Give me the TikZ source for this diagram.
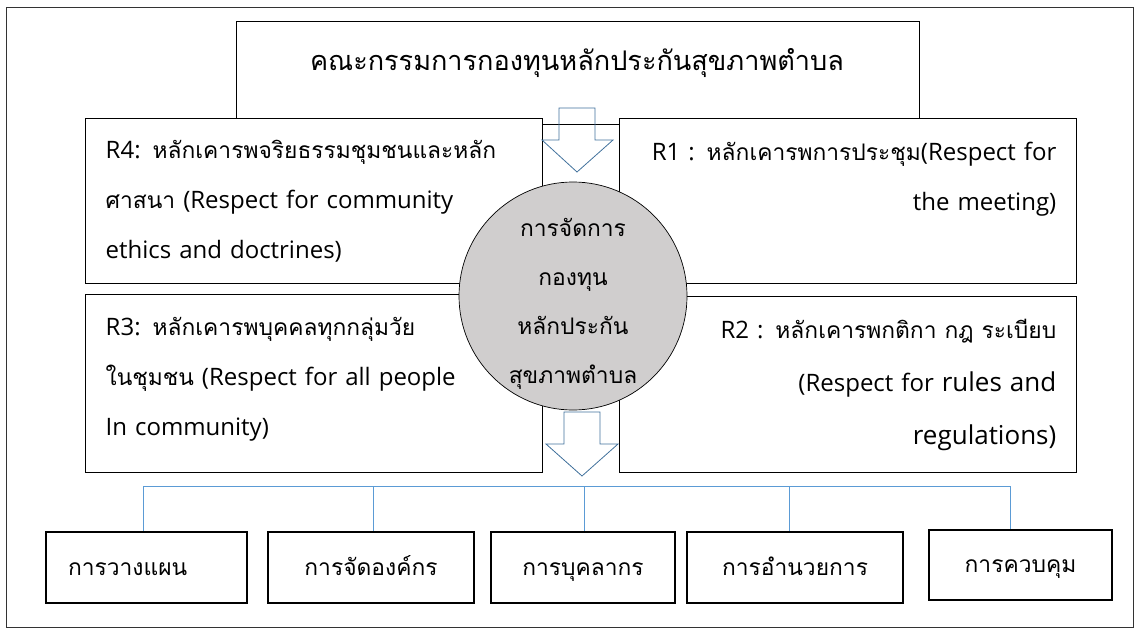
\documentclass[tikz,border=0pt]{standalone}
\usepackage{fontspec}
\setmainfont{Open Sans}
\newfontfamily\thaifont[Script=Thai,Scale=0.95]{Loma}
\newcommand\tf[1]{{\thaifont #1}}
\definecolor{treeblue}{HTML}{5B9BD5}
\definecolor{arrowblue}{HTML}{41719C}
\definecolor{circgray}{HTML}{D0CECE}
\tikzset{
  rbox/.style={draw=black, line width=1.4pt, fill=white, inner xsep=20pt, inner ysep=0pt,
    minimum width=457pt, text width=417pt, font=\fontsize{24}{50}\selectfont},
  bbox/.style={draw=black, line width=1.4pt, fill=white, inner sep=0pt, minimum height=71pt,
    text height=18pt, text depth=3pt, font=\fontsize{24}{28}\selectfont},
  arrowline/.style={draw=arrowblue, line width=0.8pt, line join=miter},
  treeline/.style={draw=treeblue, line width=0.9pt},
}
\begin{document}
\begin{tikzpicture}[x=1pt,y=-1pt]
\useasboundingbox (0,0) rectangle (1140,629);
\draw[line width=0.8pt, draw=black!80] (6,7) rectangle (1133,627);
% top box
\node[draw=black, line width=1.4pt, fill=white, minimum width=683pt, minimum height=103pt, inner sep=0pt, anchor=north west] (top) at (236,21) {};
\node[font=\fontsize{28.5}{32}\selectfont, inner sep=0pt] (title) at (577,63) {\tf{คณะกรรมการกองทุนหลักประกันสุขภาพตำบล}};
% R boxes
\node[rbox, align=left, minimum height=165pt, anchor=north west] (r4) at (85,118)
  {R4: \tf{หลักเคารพจริยธรรมชุมชนและหลัก}\\\tf{ศาสนา} (Respect for community\\ethics and doctrines)};
\node[rbox, align=right, minimum height=165pt, anchor=north east] (r1) at (1077,118)
  {R1 : \tf{หลักเคารพการประชุม}(Respect for\\the meeting)\\\mbox{}};
\node[rbox, align=left, minimum height=178pt, anchor=north west] (r3) at (85,294)
  {R3: \tf{หลักเคารพบุคคลทุกกลุ่มวัย}\\\tf{ในชุมชน} (Respect for all people\\In community)\\[-36pt]\mbox{}};
\node[rbox, align=right, minimum height=176pt, anchor=north east] (r2) at (1077,296)
  {R2 : \tf{หลักเคารพกติกา กฎ ระเบียบ}\\[3pt](Respect for {\fontsize{26}{52}\selectfont rules and}\\[3pt]{\fontsize{26}{52}\selectfont regulations)}};
% circle
\node[circle, draw=black, line width=0.7pt, fill=circgray, minimum size=228pt, inner sep=0pt,
  align=center, font=\fontsize{24}{49}\selectfont] (c) at (573,296)
  {\rule{0pt}{34pt}\tf{การจัดการ}\\\tf{กองทุน}\\\tf{หลักประกัน}\\\tf{สุขภาพตำบล}};
% block arrows
\draw[arrowline] (559,108) -- (595,108) -- (595,140) -- (613,140) -- (577,172) -- (542,140) -- (559,140) -- cycle;
\draw[arrowline] (564,412) -- (600,412) -- (600,444) -- (618,444) -- (582,476) -- (546,444) -- (564,444) -- cycle;
% bottom boxes
\node[bbox, minimum width=201pt, text width=157pt, inner xsep=22pt, align=left] (b1) at (146.5,567.5) {\tf{การวางแผน}};
\node[bbox, minimum width=206pt] (b2) at (371,567.5) {\tf{การจัดองค์กร}};
\node[bbox, minimum width=184pt] (b3) at (583,567.5) {\tf{การบุคลากร}};
\node[bbox, minimum width=216pt] (b4) at (795,567.5) {\tf{การอำนวยการ}};
\node[bbox, minimum width=183pt, minimum height=70pt] (b5) at (1020.5,565) {\tf{การควบคุม}};
% tree
\coordinate (t1) at (143,486);
\coordinate (t2) at (373,486);
\coordinate (t3) at (584,486);
\coordinate (t4) at (789,486);
\coordinate (t5) at (1010,486);
\draw[treeline] (t1) -- (t5);
\draw[treeline] (t1) -- (t1 |- b1.north);
\draw[treeline] (t2) -- (t2 |- b2.north);
\draw[treeline] (t3) -- (t3 |- b3.north);
\draw[treeline] (t4) -- (t4 |- b4.north);
\draw[treeline] (t5) -- (t5 |- b5.north);
\end{tikzpicture}
\end{document}
